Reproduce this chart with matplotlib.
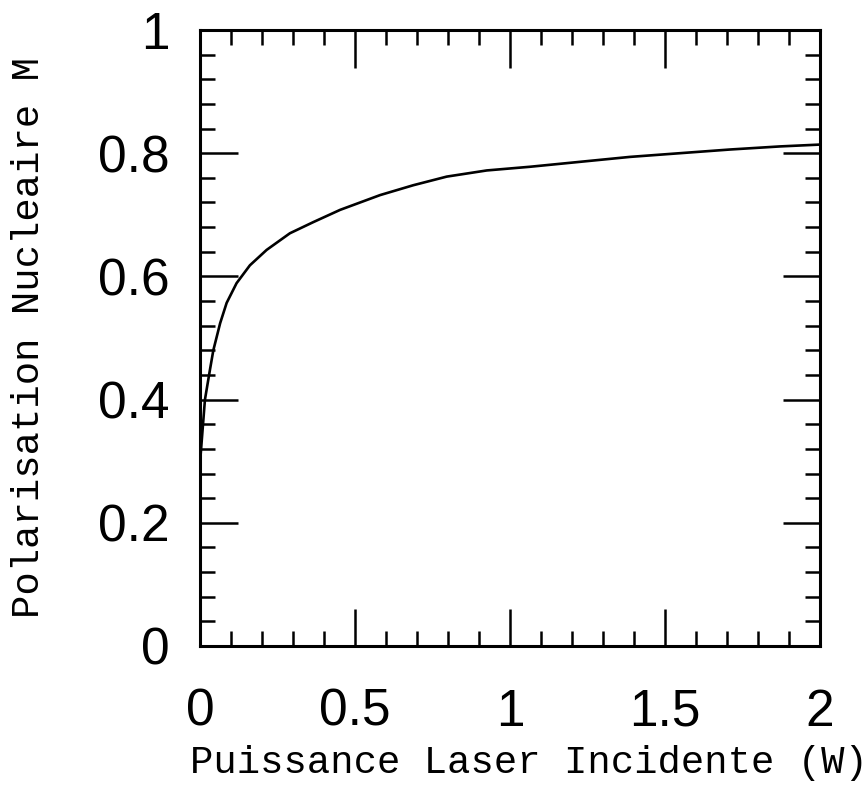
import matplotlib
matplotlib.use('Agg')
import matplotlib.pyplot as plt
from matplotlib.ticker import MultipleLocator

# values
puissance = [0.0, 0.016, 0.032, 0.043, 0.065, 0.086, 0.118, 0.161, 0.215, 0.29,
             0.365, 0.452, 0.538, 0.581, 0.688, 0.796, 0.925, 1.065, 1.226,
             1.387, 1.548, 1.71, 1.871, 2.0]
polarisation = [0.297, 0.40, 0.448, 0.48, 0.524, 0.557, 0.589, 0.618, 0.643, 0.670,
                0.688, 0.708, 0.724, 0.732, 0.748, 0.762, 0.772, 0.778, 0.786,
                0.794, 0.80, 0.806, 0.811, 0.814]

x_ticks = [0, 0.5, 1, 1.5, 2]
x_ticklabels = ['0', '0.5', '1', '1.5', '2']
y_ticks = [0, 0.2, 0.4, 0.6, 0.8, 1]
y_ticklabels = ['0', '0.2', '0.4', '0.6', '0.8', '1']

fig = plt.figure(figsize=(8.68, 7.98), dpi=100)
ax = fig.add_axes([0.2304, 0.1905, 0.7143, 0.7719])

ax.plot(puissance, polarisation, color='k', linewidth=1.9)

ax.set_xlim(0, 2)
ax.set_ylim(0, 1)
ax.set_xticks(x_ticks)
ax.set_xticklabels(x_ticklabels)
ax.set_yticks(y_ticks)
ax.set_yticklabels(y_ticklabels)
ax.xaxis.set_minor_locator(MultipleLocator(0.1))
ax.yaxis.set_minor_locator(MultipleLocator(0.04))

for axis in ['top', 'bottom', 'left', 'right']:
    ax.spines[axis].set_linewidth(2.2)

ax.tick_params(which='major', direction='in', length=27, width=1.8,
               top=True, right=True, labelsize=37)
ax.tick_params(which='minor', direction='in', length=11, width=1.8,
               top=True, right=True)
ax.tick_params(axis='x', which='major', pad=30)
ax.tick_params(axis='y', which='major', pad=22)
for lab in ax.get_xticklabels() + ax.get_yticklabels():
    lab.set_family('Liberation Sans')

ax.set_xlabel('Puissance Laser Incidente (W)', fontsize=28,
              family='Liberation Mono')
ax.set_ylabel('Polarisation Nucleaire M', fontsize=28,
              family='Liberation Mono')
ax.xaxis.set_label_coords(0.53, -0.16)
ax.yaxis.set_label_coords(-0.247, 0.50)

fig.savefig('out.png', dpi=100)
